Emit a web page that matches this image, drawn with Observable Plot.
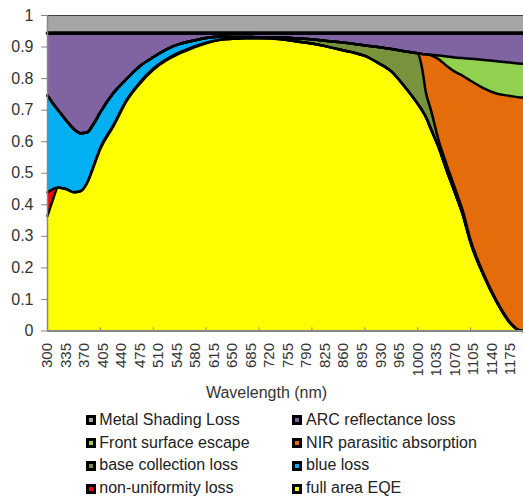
<!DOCTYPE html>
<html>
<head>
<meta charset="utf-8">
<script src="https://cdn.jsdelivr.net/npm/d3@7"></script>
<script src="https://cdn.jsdelivr.net/npm/@observablehq/plot@0.6"></script>
<style>
  html, body { margin: 0; padding: 0; background: #fff; }
  #wrap { position: relative; width: 523px; height: 497px; font-family: "Liberation Sans", Arial, sans-serif; }
  #xtitle { position: absolute; left: 0; top: 384px; width: 523px; padding-left: 10px; box-sizing: border-box; text-align: center; font-size: 16px; line-height: 18px; color: #333; }
  #legend { position: absolute; left: 85.5px; top: 408.8px; display: grid; grid-template-columns: 206.8px auto; font-size: 16px; color: #222; }
  .item { display: flex; align-items: center; height: 22.8px; line-height: 22.8px; white-space: nowrap; }
  .mk { width: 4px; height: 4px; border: 3px solid #000; margin-right: 3.8px; flex: none; }
</style>
</head>
<body>
<div id="wrap"></div>
<script>
// Wavelengths (nm)
const wavelengths = [300,310,320,335,350,362,375,387,400,425,450,475,500,525,550,575,600,625,650,675,700,725,750,775,800,825,850,875,900,925,950,975,1000,1008,1015,1025,1040,1055,1070,1085,1100,1125,1150,1175,1190,1200];

// Series values (fraction), stacked bottom to top
const fullAreaEQE = [0.365,0.415,0.455,0.45,0.44,0.443,0.47,0.52,0.578,0.65,0.73,0.785,0.828,0.858,0.88,0.897,0.912,0.922,0.926,0.928,0.928,0.927,0.923,0.917,0.911,0.903,0.893,0.884,0.872,0.85,0.823,0.775,0.72,0.70,0.68,0.64,0.58,0.508,0.44,0.37,0.28,0.175,0.09,0.025,0.003,0];
const nonUniformityLoss = [0.075,0.035,0,0,0,0,0,0.003,0.004,0.004,0.004,0.004,0.004,0.004,0.004,0.003,0.002,0.001,0,0,0,0,0,0,0,0,0,0,0,0,0,0,0,0,0,0,0,0,0,0,0,0,0,0,0,0];
const blueLoss = [0.306,0.272,0.245,0.218,0.2,0.184,0.16,0.133,0.112,0.101,0.066,0.051,0.036,0.031,0.026,0.02,0.015,0.01,0.006,0.004,0.003,0.002,0,0,0,0,0,0,0,0,0,0,0,0,0,0,0,0,0,0,0,0,0,0,0,0];
const baseCollectionLoss = [0,0,0,0,0,0,0,0,0,0,0,0,0,0,0,0,0,0,0,0,0,0.002,0.007,0.01,0.013,0.017,0.023,0.027,0.033,0.05,0.071,0.112,0.16,0.135,0.08,0.06,0.022,0.018,0.015,0.012,0.008,0.005,0.003,0.002,0.001,0];
const nirParasiticAbsorption = [0,0,0,0,0,0,0,0,0,0,0,0,0,0,0,0,0,0,0,0,0,0,0,0,0,0,0,0,0,0,0,0,0,0.043,0.117,0.174,0.259,0.314,0.367,0.427,0.505,0.589,0.659,0.718,0.737,0.74];
const frontSurfaceEscape = [0,0,0,0,0,0,0,0,0,0,0,0,0,0,0,0,0,0,0,0,0,0,0,0,0,0,0,0,0,0,0,0,0,0,0,0.002,0.012,0.03,0.045,0.056,0.07,0.09,0.103,0.106,0.107,0.107];
const arcReflectanceLoss = [0.198,0.222,0.244,0.276,0.304,0.317,0.314,0.288,0.25,0.189,0.144,0.104,0.076,0.051,0.034,0.024,0.015,0.011,0.012,0.012,0.013,0.013,0.014,0.017,0.02,0.024,0.028,0.033,0.039,0.044,0.05,0.057,0.064,0.066,0.067,0.068,0.071,0.074,0.077,0.079,0.081,0.085,0.089,0.093,0.096,0.097];
const metalShadingLoss = wavelengths.map(() => 0.056);

// Tick labels
const xLabels = [300,335,370,405,440,475,510,545,580,615,650,685,720,755,790,825,860,895,930,965,1000,1035,1070,1105,1140,1175];
const xTickMarks = [400,500,600,700,800,900,1000,1100];
const yTicks = [0,0.1,0.2,0.3,0.4,0.5,0.6,0.7,0.8,0.9,1];

const seriesNames = ["full area EQE","non-uniformity loss","blue loss","base collection loss","NIR parasitic absorption","Front surface escape","ARC reflectance loss","Metal Shading Loss"];
const seriesColors = ["#ffff00","#ff0000","#00b0f0","#77933c","#e46c0a","#92d050","#8064a2","#a6a6a6"];
const seriesValues = [fullAreaEQE,nonUniformityLoss,blueLoss,baseCollectionLoss,nirParasiticAbsorption,frontSurfaceEscape,arcReflectanceLoss,metalShadingLoss];
const legendOrder = ["Metal Shading Loss","ARC reflectance loss","Front surface escape","NIR parasitic absorption","base collection loss","blue loss","non-uniformity loss","full area EQE"];

const table = seriesNames.flatMap((name, k) => wavelengths.map((w, i) => ({wavelength: w, value: seriesValues[k][i], series: name})));
const lineWidth = s => s === "ARC reflectance loss" ? 3.6 : (s === "Metal Shading Loss" ? 1 : 2.5);

const chart = Plot.plot({
  width: 523,
  height: 380,
  marginTop: 15,
  marginLeft: 47,
  marginRight: 0,
  marginBottom: 49.5,
  x: {domain: [300, 1200]},
  y: {domain: [0, 1]},
  color: {domain: seriesNames, range: seriesColors},
  style: {fontFamily: "'Liberation Sans', Arial, sans-serif", fontSize: "16px", color: "#333", background: "#fff", overflow: "visible"},
  marks: [
    Plot.areaY(table, {x: "wavelength", y: "value", z: "series", fill: "series", order: seriesNames, curve: "monotone-x"}),
    Plot.lineY(table, Plot.stackY2({x: "wavelength", y: "value", z: "series", order: seriesNames, curve: "monotone-x", stroke: "#000", strokeWidth: d => lineWidth(d.series), strokeLinejoin: "round"})),
    Plot.ruleY([1], {stroke: "#404040", strokeWidth: 1}),
    Plot.ruleX([300], {stroke: "#868686", strokeWidth: 1.5}),
    Plot.ruleX(xTickMarks, {y1: 0, y2: 0.01, stroke: "#868686", strokeWidth: 1}),
    Plot.ruleY([0], {stroke: "#868686", strokeWidth: 2}),
    Plot.axisY({ticks: yTicks, tickSize: 6, tickPadding: 8, stroke: "#868686", fill: "#333", fontSize: 16, label: null, tickFormat: d => String(d)}),
    Plot.axisX({ticks: xLabels, tickSize: 0, tickPadding: 12, tickRotate: -90, fill: "#333", fontSize: 15, label: null, tickFormat: d => String(d)})
  ]
});

const wrap = document.getElementById("wrap");
wrap.appendChild(chart);

const xt = document.createElement("div");
xt.id = "xtitle";
xt.textContent = "Wavelength (nm)";
wrap.appendChild(xt);

const legend = document.createElement("div");
legend.id = "legend";
legendOrder.forEach(name => {
  const item = document.createElement("div");
  item.className = "item";
  const mk = document.createElement("span");
  mk.className = "mk";
  mk.style.background = seriesColors[seriesNames.indexOf(name)];
  const label = document.createElement("span");
  label.textContent = name;
  item.appendChild(mk);
  item.appendChild(label);
  legend.appendChild(item);
});
wrap.appendChild(legend);
</script>
</body>
</html>
